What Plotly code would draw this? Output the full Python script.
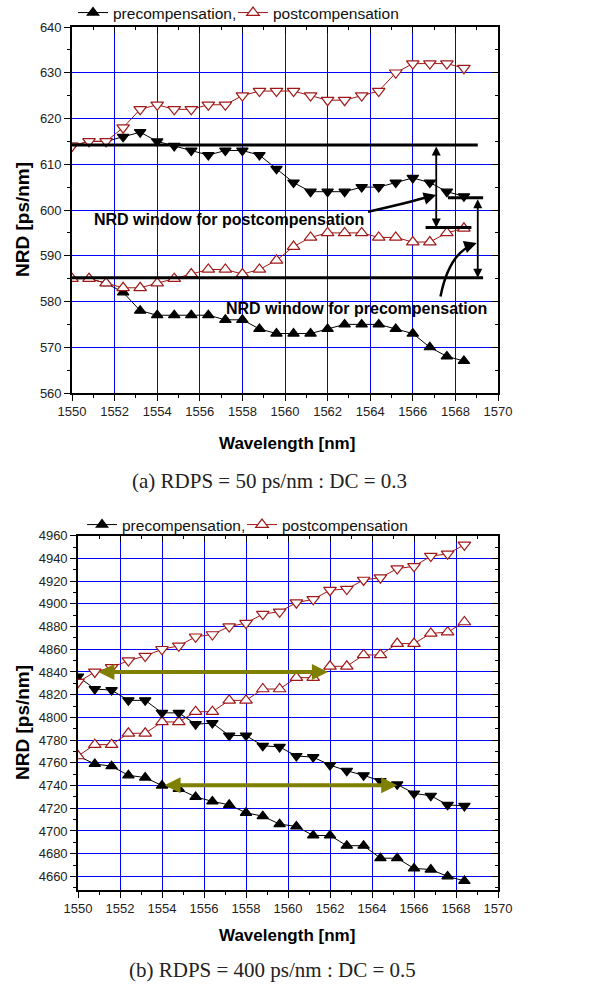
import plotly.graph_objects as go

# ---------------- data ----------------
wavelength = [1550.0, 1550.8, 1551.6, 1552.4, 1553.2, 1554.0, 1554.8, 1555.6,
              1556.4, 1557.2, 1558.0, 1558.8, 1559.6, 1560.4, 1561.2, 1562.0,
              1562.8, 1563.6, 1564.4, 1565.2, 1566.0, 1566.8, 1567.6, 1568.4]

# (a) RDPS = 50 ps/nm : DC = 0.3
a_pre_up = [585, 585, 584, 582, 578, 577, 577, 577, 577, 576, 576, 574,
            573, 573, 573, 574, 575, 575, 575, 574, 573, 570, 568, 567]
a_post_up = [585, 585, 584, 583, 583, 584, 585, 586, 587, 587, 586, 587,
             589, 592, 594, 595, 595, 595, 594, 594, 593, 593, 595, 596]
a_pre_down = [614, 615, 615, 616, 617, 615, 614, 613, 612, 613, 613, 612,
              609, 606, 604, 604, 604, 605, 605, 606, 607, 606, 604, 603]
a_post_down = [614, 615, 615, 618, 622, 623, 622, 622, 623, 623, 625, 626,
               626, 626, 625, 624, 624, 625, 626, 630, 632, 632, 632, 631]

# (b) RDPS = 400 ps/nm : DC = 0.5
b_pre_up = [4766, 4759, 4757, 4749, 4747, 4740, 4737, 4730, 4726, 4723, 4716, 4713,
            4706, 4704, 4696, 4696, 4687, 4687, 4676, 4676, 4667, 4666, 4660, 4656]
b_post_up = [4766, 4776, 4776, 4786, 4786, 4796, 4796, 4805, 4805, 4815, 4815, 4825,
             4825, 4835, 4835, 4845, 4845, 4855, 4855, 4865, 4865, 4874, 4875, 4884]
b_pre_down = [4836, 4825, 4824, 4815, 4815, 4804, 4804, 4794, 4795, 4784, 4784, 4775,
              4774, 4766, 4765, 4758, 4753, 4749, 4744, 4741, 4733, 4731, 4723, 4722]
b_post_down = [4831, 4840, 4844, 4850, 4854, 4860, 4863, 4871, 4873, 4880, 4883, 4891,
               4893, 4901, 4904, 4912, 4913, 4921, 4923, 4931, 4933, 4942, 4944, 4952]

x_ticks = [1550, 1552, 1554, 1556, 1558, 1560, 1562, 1564, 1566, 1568, 1570]
legend_names = ["precompensation,", "postcompensation"]
captions = ["(a) RDPS = 50 ps/nm : DC = 0.3", "(b) RDPS = 400 ps/nm : DC = 0.5"]

# ---------------- styles ----------------
BLACK = "#000000"
RED = "#a01818"
BLUE = "#0000ff"
OLIVE = "#7f7f00"
W, H = 593, 994

fig = go.Figure()


def series(x, y, xa, ya, filled, up, name=None, legend=None):
    sym = "triangle-up" if up else "triangle-down"
    col = BLACK if filled else RED
    fig.add_trace(go.Scatter(
        x=x, y=y, xaxis=xa, yaxis=ya, mode="lines+markers",
        name=name if name else "", showlegend=bool(name), legend=legend,
        line=dict(color=col, width=1),
        marker=dict(symbol=sym, size=10 if filled else 11,
                    color=BLACK if filled else "white",
                    line=dict(color=col, width=1.2)),
        hoverinfo="skip"))


def spacer(xa, ya, legend):
    # invisible trailing legend entry so the last real entry is not clipped
    fig.add_trace(go.Scatter(x=[None], y=[None], xaxis=xa, yaxis=ya, mode="lines",
                             name=" ", legend=legend, showlegend=True,
                             line=dict(color="rgba(0,0,0,0)", width=0), hoverinfo="skip"))


# top chart (a)
series(wavelength, a_pre_up, "x", "y", True, True, legend_names[0], "legend")
series(wavelength, a_post_up, "x", "y", False, True, legend_names[1], "legend")
series(wavelength, a_pre_down, "x", "y", True, False)
series(wavelength, a_post_down, "x", "y", False, False)
spacer("x", "y", "legend")
# bottom chart (b)
series(wavelength, b_pre_up, "x2", "y2", True, True, legend_names[0], "legend2")
series(wavelength, b_post_up, "x2", "y2", False, True, legend_names[1], "legend2")
series(wavelength, b_pre_down, "x2", "y2", True, False)
series(wavelength, b_post_down, "x2", "y2", False, False)
spacer("x2", "y2", "legend2")

# dummy traces so mirror axes render
fig.add_trace(go.Scatter(x=[None], y=[None], xaxis="x3", yaxis="y3", showlegend=False, hoverinfo="skip"))
fig.add_trace(go.Scatter(x=[None], y=[None], xaxis="x4", yaxis="y4", showlegend=False, hoverinfo="skip"))

dom_top_x = [72 / W, 498 / W]
dom_top_y = [1 - 393 / H, 1 - 27 / H]
dom_bot_x = [78 / W, 498 / W]
dom_bot_y = [1 - 890 / H, 1 - 535.7 / H]
yr_top = [560, 640]
yr_bot = [4648, 4960]
xr = [1550, 1570]

tickfont = dict(family="Liberation Sans, Arial", size=13, color="#222")

def main_x(domain, anchor):
    return dict(domain=domain, anchor=anchor, range=xr, tickvals=x_ticks,
                ticks="outside", ticklen=6, tickwidth=1.3, tickcolor=BLACK,
                minor=dict(dtick=1, ticks="outside", ticklen=3, tickcolor=BLACK, showgrid=False),
                showgrid=True, gridcolor=BLUE, gridwidth=1,
                showline=True, linecolor=BLACK, linewidth=1.6,
                tickfont=tickfont, zeroline=False)

def main_y(domain, anchor, rng, dtick, t0):
    return dict(domain=domain, anchor=anchor, range=rng, tick0=t0, dtick=dtick,
                ticks="outside", ticklen=6, tickwidth=1.3, tickcolor=BLACK,
                minor=dict(dtick=dtick / 2, ticks="outside", ticklen=3, tickcolor=BLACK, showgrid=False),
                showgrid=True, gridcolor=BLUE, gridwidth=1,
                showline=True, linecolor=BLACK, linewidth=1.6,
                tickfont=tickfont, zeroline=False)

def mirror_x(ov, anchor):
    return dict(overlaying=ov, anchor=anchor, side="top", range=xr, tickvals=x_ticks,
                ticks="inside", ticklen=6, tickwidth=1.3, tickcolor=BLACK,
                minor=dict(dtick=1, ticks="inside", ticklen=3, tickcolor=BLACK, showgrid=False),
                showticklabels=False, showgrid=False, showline=True,
                linecolor=BLACK, linewidth=1.6, zeroline=False)

def mirror_y(ov, anchor, rng, dtick, t0):
    return dict(overlaying=ov, anchor=anchor, side="right", range=rng, tick0=t0, dtick=dtick,
                ticks="inside", ticklen=6, tickwidth=1.3, tickcolor=BLACK,
                minor=dict(dtick=dtick / 2, ticks="inside", ticklen=3, tickcolor=BLACK, showgrid=False),
                showticklabels=False, showgrid=False, showline=True,
                linecolor=BLACK, linewidth=1.6, zeroline=False)

legend_style = dict(orientation="h", xanchor="left", yanchor="middle",
                    font=dict(family="Liberation Sans, Arial", size=15.5, color="#111"),
                    bgcolor="rgba(0,0,0,0)", itemwidth=30, tracegroupgap=0,
                    entrywidth=115, entrywidthmode="pixels")

fig.update_layout(
    width=W, height=H, margin=dict(l=0, r=0, t=0, b=0, autoexpand=False),
    paper_bgcolor="white", plot_bgcolor="white",
    xaxis=main_x(dom_top_x, "y"),
    yaxis=main_y(dom_top_y, "x", yr_top, 10, 560),
    xaxis2=main_x(dom_bot_x, "y2"),
    yaxis2=main_y(dom_bot_y, "x2", yr_bot, 20, 4660),
    xaxis3=mirror_x("x", "y"),
    yaxis3=mirror_y("y", "x", yr_top, 10, 560),
    xaxis4=mirror_x("x2", "y2"),
    yaxis4=mirror_y("y2", "x2", yr_bot, 20, 4660),
    legend=dict(x=73 / W, y=1 - 13 / H, **legend_style),
    legend2=dict(x=82 / W, y=1 - 525 / H, **legend_style),
)

# ---------------- text ----------------
title_font = dict(family="Liberation Sans, Arial", size=17, color=BLACK)
ytitle_font = dict(family="Liberation Sans, Arial", size=19, color=BLACK)

def note(text, x, y, font, angle=0):
    fig.add_annotation(text=text, x=x, y=y, xref="paper", yref="paper", textangle=angle,
                       xanchor="center", yanchor="middle", showarrow=False, font=font)

for yc in [1 - 220 / H, 1 - 723 / H]:
    note("<b>NRD [ps/nm]</b>", 22 / W, yc, ytitle_font, -90)
for yc in [1 - 443 / H, 1 - 935 / H]:
    note("<b>Wavelength [nm]</b>", 287 / W, yc, title_font)
cap_font = dict(family="Liberation Serif, DejaVu Serif", size=21, color="#222")
note(captions[0], 269 / W, 1 - 481 / H, cap_font)
note(captions[1], 272 / W, 1 - 970 / H, cap_font)

# ---------------- window markers on (a) ----------------
win_font = dict(family="Liberation Sans, Arial", size=16, color=BLACK)
fig.add_annotation(text="<b>NRD window for postcompensation</b>", x=1557.37, y=598.0,
                   xref="x", yref="y", xanchor="center", yanchor="middle",
                   showarrow=False, font=win_font)
fig.add_annotation(text="<b>NRD window for precompensation</b>", x=1563.38, y=578.5,
                   xref="x", yref="y", xanchor="center", yanchor="middle",
                   showarrow=False, font=win_font)

level_lines = [  # (x0, x1, y)
    (1550.0, 1569.05, 614.2),
    (1550.0, 1569.3, 585.2),
    (1567.65, 1569.3, 602.7),
    (1566.6, 1568.75, 596.2),
]
for x0, x1, yv in level_lines:
    fig.add_shape(type="line", x0=x0, x1=x1, y0=yv, y1=yv, xref="x", yref="y",
                  line=dict(color=BLACK, width=3))

# vertical double arrows
for xv, y0, y1 in [(1567.1, 614.2, 596.2), (1569.05, 602.7, 585.2)]:
    fig.add_annotation(x=xv, y=y1, ax=xv, ay=y0, xref="x", yref="y", axref="x", ayref="y",
                       text="", showarrow=True, arrowhead=2, arrowside="end+start",
                       arrowsize=1, arrowwidth=1.8, arrowcolor=BLACK)

# curved pointer arrows
fig.add_shape(type="path", xref="x", yref="y",
              path="M 1563.9,599.6 Q 1565.8,601.6 1566.9,603.1",
              line=dict(color=BLACK, width=2.5))
fig.add_annotation(x=1567.1, y=603.3, ax=1566.6, ay=602.6, xref="x", yref="y", axref="x", ayref="y",
                   text="", showarrow=True, arrowhead=2, arrowsize=1, arrowwidth=2.5, arrowcolor=BLACK)
fig.add_shape(type="path", xref="x", yref="y",
              path="M 1567.3,581.1 Q 1567.7,590.5 1568.85,592.5",
              line=dict(color=BLACK, width=2.5))
fig.add_annotation(x=1569.0, y=592.8, ax=1568.5, ay=592.0, xref="x", yref="y", axref="x", ayref="y",
                   text="", showarrow=True, arrowhead=2, arrowsize=1, arrowwidth=2.5, arrowcolor=BLACK)

# ---------------- olive arrows on (b) ----------------
for x0, x1, yv in [(1550.9, 1561.9, 4840.0), (1554.05, 1565.2, 4740.3)]:
    fig.add_annotation(x=x1, y=yv, ax=x0, ay=yv, xref="x2", yref="y2", axref="x2", ayref="y2",
                       text="", showarrow=True, arrowhead=2, arrowside="end+start",
                       arrowsize=0.8, arrowwidth=4, arrowcolor=OLIVE)

fig.write_html("out.html")
